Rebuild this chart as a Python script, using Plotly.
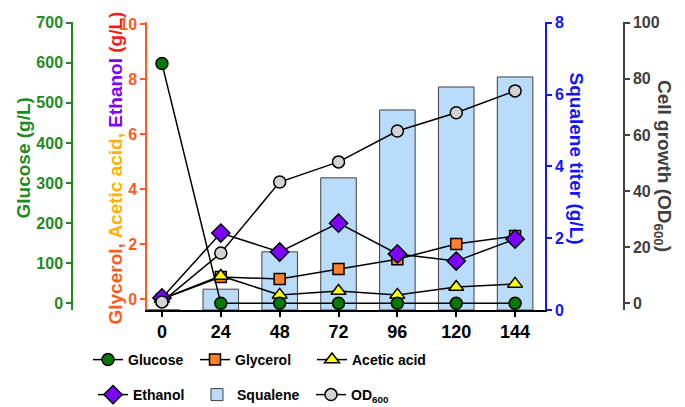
import plotly.graph_objects as go

hours = [0, 24, 48, 72, 96, 120, 144]
glucose = [598, 0, 0, 0, 0, 0, 0]
glycerol = [0.0, 0.8, 0.73, 1.09, 1.45, 2.0, 2.29]
acetic = [0.0, 0.84, 0.15, 0.29, 0.15, 0.44, 0.55]
ethanol = [0.04, 2.4, 1.71, 2.76, 1.64, 1.38, 2.18]
squalene = [0, 0.58, 1.62, 3.68, 5.57, 6.21, 6.49]
od600 = [0.5, 17.9, 43.2, 50.4, 61.4, 67.9, 75.7]

x_ticks = [0, 24, 48, 72, 96, 120, 144]
glucose_ticks = [0, 100, 200, 300, 400, 500, 600, 700]
metab_ticks = [0, 2, 4, 6, 8, 10]
squalene_ticks = [0, 2, 4, 6, 8]
od_ticks = [0, 20, 40, 60, 80, 100]

GREEN = "#1f8a1f"
ORANGE = "#ff5a1f"
BLUE = "#1414ff"
GRAY = "#404040"
FONT = "Liberation Sans, Arial, sans-serif"

# page has an 8px body margin; figure is sized to fill the rest of the window
OFF = 8
W, H = 685 - OFF, 407 - OFF
TOP, BOT = 22, 310          # screen px of plot top / bottom
LEFT, RIGHT = 147, 545      # screen px of plot left / right

def py(Y):
    return (BOT - Y) / (BOT - TOP)

def px(X):
    return (X - OFF) / W

line = dict(color="black", width=1.5)
mk = lambda sym, col, sz=12: dict(symbol=sym, color=col, size=sz, line=dict(color="black", width=1.5))

fig = go.Figure()
fig.add_trace(go.Scatter(x=hours, y=glucose, name="Glucose", mode="lines+markers", yaxis="y3",
                         line=line, marker=mk("circle", "#007a00"), legend="legend", legendwidth=62))
fig.add_trace(go.Scatter(x=hours, y=glycerol, name="Glycerol", mode="lines+markers", yaxis="y2",
                         line=line, marker=mk("square", "#ff7f2a", 11), legend="legend", legendwidth=72))
fig.add_trace(go.Scatter(x=hours, y=acetic, name="Acetic acid", mode="lines+markers", yaxis="y2",
                         line=line, marker=mk("triangle-up", "#ffff00", 13), legend="legend", legendwidth=90))
fig.add_trace(go.Scatter(x=hours, y=ethanol, name="Ethanol", mode="lines+markers", yaxis="y2",
                         line=line, marker=mk("diamond", "#7f00ff", 14), legend="legend2", legendwidth=59))
fig.add_trace(go.Bar(x=hours, y=squalene, name="Squalene", yaxis="y", width=14.5,
                     marker=dict(color="#b9dcfa", line=dict(color="#404040", width=1)),
                     legend="legend2", legendwidth=69))
fig.add_trace(go.Scatter(x=hours, y=od600, name="OD<sub>600</sub>", mode="lines+markers", yaxis="y4",
                         line=line, marker=mk("circle", "#d3d3d3"), legend="legend2", legendwidth=60))

tickfont = lambda c, s=16: dict(family=FONT, size=s, color=c, weight="bold")
ax_common = dict(showgrid=False, zeroline=False, ticks="outside", ticklen=5, tickwidth=1.5,
                 showline=True, linewidth=1.5, automargin=False)

fig.update_layout(
    width=W, height=H,
    margin=dict(l=0, r=0, t=TOP - OFF, b=H - (BOT - OFF), pad=0, autoexpand=False),
    plot_bgcolor="white", paper_bgcolor="white",
    showlegend=True,
    barmode="overlay",
    xaxis=dict(domain=[px(LEFT), px(RIGHT)], range=[-6.1, 156.2], tickvals=x_ticks,
               tickfont=tickfont("black", 18), linecolor="black", tickcolor="black",
               **ax_common),
    yaxis=dict(side="right", anchor="x", range=[0, 8.02], tickvals=squalene_ticks,
               tickfont=tickfont(BLUE), linecolor=BLUE, tickcolor=BLUE, **ax_common),
    yaxis2=dict(side="left", anchor="x", overlaying="y", range=[-0.40, 10.08], tickvals=metab_ticks,
                tickfont=tickfont(ORANGE), linecolor=ORANGE, tickcolor=ORANGE, **ax_common),
    yaxis3=dict(side="left", anchor="free", position=px(72), overlaying="y", range=[-16.7, 701.7],
                tickvals=glucose_ticks, tickfont=tickfont(GREEN), linecolor=GREEN, tickcolor=GREEN,
                **ax_common),
    yaxis4=dict(side="right", anchor="free", position=px(624), overlaying="y", range=[-2.39, 100.25],
                tickvals=od_ticks, tickfont=tickfont(GRAY), linecolor=GRAY, tickcolor=GRAY,
                **ax_common),
    legend=dict(orientation="h", x=px(88), y=py(360), xanchor="left", yanchor="middle",
                font=dict(family=FONT, size=14, color="black", weight="bold"),
                bgcolor="rgba(0,0,0,0)", itemwidth=30, tracegroupgap=0),
    legend2=dict(orientation="h", x=px(93), y=py(395), xanchor="left", yanchor="middle",
                 font=dict(family=FONT, size=14, color="black", weight="bold"),
                 bgcolor="rgba(0,0,0,0)", itemwidth=30, tracegroupgap=0),
)

title_font = dict(family=FONT, size=19, weight="bold")
fig.add_annotation(text="Glucose (g/L)", x=px(10), y=py(158), xref="paper", yref="paper",
                   textangle=-90, showarrow=False, font=dict(color=GREEN, **title_font))
fig.add_annotation(
    text=("<span style='color:#ff5a1f'>Glycerol, </span>"
          "<span style='color:#ffb000'>Acetic acid, </span>"
          "<span style='color:#7f00ff'>Ethanol </span>"
          "<span style='color:#ff1a1a'>(g/L)</span>"),
    x=px(102), y=py(168), xref="paper", yref="paper", textangle=-90, showarrow=False,
    font=title_font)
fig.add_annotation(text="Squalene titer (g/L)", x=px(589), y=py(158), xref="paper", yref="paper",
                   textangle=90, showarrow=False, font=dict(color=BLUE, **title_font))
fig.add_annotation(text="Cell growth (OD<sub>600</sub>)", x=px(677), y=py(166), xref="paper",
                   yref="paper", textangle=90, showarrow=False, font=dict(color=GRAY, **title_font))

fig.write_html("out.html")
